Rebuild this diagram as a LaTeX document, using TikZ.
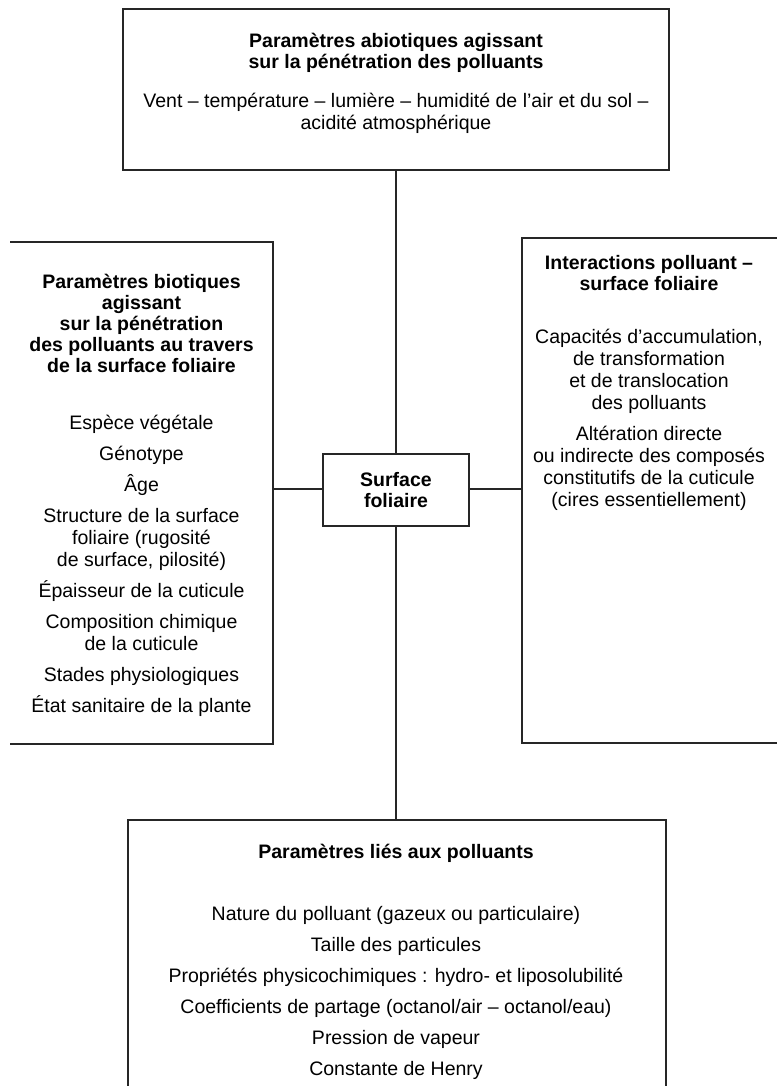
\documentclass[tikz,border=0pt]{standalone}
\usepackage{fontspec}
\setmainfont{Liberation Sans}
\begin{document}
\begin{tikzpicture}[x=1pt,y=-1pt,
  frame/.style={rectangle,inner sep=0pt,outer sep=0pt,draw=none},
  edge/.style={draw=black!85,line width=1.1pt},
  headtext/.style={inner sep=0pt,align=center,font=\fontsize{19.5}{21}\selectfont\bfseries},
  bodytext/.style={inner sep=0pt,align=center,font=\fontsize{19.5}{22}\selectfont}]
\useasboundingbox (0,0) rectangle (776,1086);

% boxes
\node[frame,edge,minimum width=546pt,minimum height=161pt] (abio) at (396,89.5) {};
\node[frame,minimum width=263pt,minimum height=502pt] (bio) at (141.5,493) {};
\node[frame,minimum width=258pt,minimum height=505pt] (inter) at (651,490.5) {};
\node[frame,edge,minimum width=146pt,minimum height=72pt] (surf) at (396,490) {};
\node[frame,minimum width=538pt,minimum height=270pt] (poll) at (397,955) {};

% open-sided boxes
\draw[edge] (bio.north west) -- (bio.north east) -- (bio.south east) -- (bio.south west);
\draw[edge] (inter.north east) -- (inter.north west) -- (inter.south west) -- (inter.south east);
\draw[edge] (poll.south west) -- (poll.north west) -- (poll.north east) -- (poll.south east);

% connectors
\draw[edge] (abio.south) -- (surf.north);
\draw[edge] (surf.south) -- (surf.south |- poll.north);
\draw[edge] ([yshift=1pt]surf.west) -- ([yshift=1pt]surf.west -| bio.east);
\draw[edge] ([yshift=1pt]surf.east) -- ([yshift=1pt]surf.east -| inter.west);

% texts
\node[headtext] (abioT) at (396,53) {Paramètres abiotiques agissant\\sur la pénétration des polluants};
\node[bodytext] (abioB) at (396,113) {Vent – température – lumière – humidité de l’air et du sol –\\acidité atmosphérique};

\node[headtext] (bioT) at (141.5,323) {Paramètres biotiques\\agissant\\sur la pénétration\\des polluants au travers\\de la surface foliaire};
\node[bodytext] (bioB) at (141.5,566) {Espèce végétale\\[9pt]Génotype\\[9pt]Âge\\[9pt]Structure de la surface\\foliaire (rugosité\\de surface, pilosité)\\[9pt]Épaisseur de la cuticule\\[9pt]Composition chimique\\de la cuticule\\[9pt]Stades physiologiques\\[9pt]État sanitaire de la plante};

\node[headtext] (interT) at (649,273) {Interactions polluant –\\surface foliaire};
\node[bodytext] (interB) at (649,420) {Capacités d’accumulation,\\de transformation\\et de translocation\\des polluants\\[9pt]Altération directe\\ou indirecte des composés\\constitutifs de la cuticule\\(cires essentiellement)};

\node[headtext] (surfT) at (396,490) {Surface\\foliaire};

\node[headtext] (pollT) at (396,853) {Paramètres liés aux polluants};
\node[bodytext] (pollB) at (396,993) {Nature du polluant (gazeux ou particulaire)\\[9pt]Taille des particules\\[9pt]Propriétés physicochimiques : hydro- et liposolubilité\\[9pt]Coefficients de partage (octanol/air – octanol/eau)\\[9pt]Pression de vapeur\\[9pt]Constante de Henry};
\end{tikzpicture}
\end{document}
